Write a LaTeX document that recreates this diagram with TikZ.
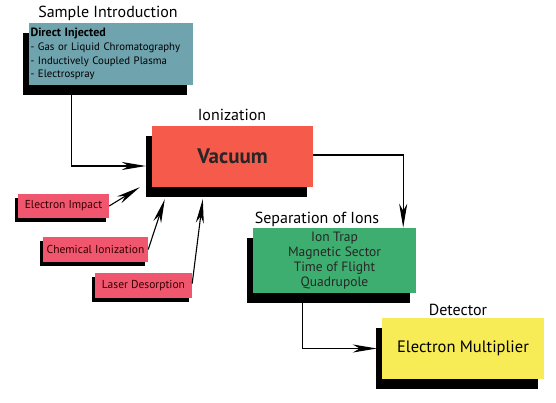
\documentclass[tikz,border=0pt]{standalone}
\usepackage{fontspec}
\setmainfont{PT Sans}
\usetikzlibrary{shadows,arrows.meta}
\definecolor{samplecol}{HTML}{6FA3AE}
\definecolor{vacuumcol}{HTML}{F55A4B}
\definecolor{methodcol}{HTML}{F0566E}
\definecolor{sepcol}{HTML}{3DAE70}
\definecolor{detcol}{HTML}{F7EC56}
\begin{document}
\begin{tikzpicture}[x=1pt,y=-1pt,
    stage/.style={rectangle, inner sep=4pt, general shadow={fill=black, shadow xshift=-6pt, shadow yshift=-10pt}},
    method/.style={rectangle, inner sep=2pt, fill=methodcol, text=black!80!red, font=\fontsize{11.5}{13}\selectfont,
        general shadow={fill=black, shadow xshift=-3.5pt, shadow yshift=-4pt}},
    title/.style={font=\fontsize{16}{18}\selectfont},
    arr/.style={line width=1.1pt, -{Stealth[length=24pt,width=8pt,inset=7pt]}}]
  \useasboundingbox (0,0) rectangle (556,403);

  % Sample introduction
  \node[title] (sampletitle) at (108,13) {Sample Introduction};
  \node[stage, fill=samplecol, minimum width=164pt, minimum height=62pt, text width=160pt, inner sep=2pt, align=left,
        font=\fontsize{10.8}{13.7}\selectfont] (sample) at (110.5,54)
    {\textbf{\fontsize{12}{13.7}\selectfont Direct Injected}\\
     - Gas or Liquid Chromatography\\
     - Inductively Coupled Plasma\\
     - Electrospray};

  % Ionization
  \node[title] (iontitle) at (232,115) {Ionization};
  \node[stage, fill=vacuumcol, minimum width=161pt, minimum height=61pt,
        font=\fontsize{21}{24}\selectfont\bfseries, text=black!85] (vac) at (232.5,156.5) {Vacuum};

  % Ionization methods
  \node[method, minimum width=91pt, minimum height=24pt] (ei) at (63.5,206) {Electron Impact};
  \node[method, minimum width=105pt, minimum height=25pt] (ci) at (95.5,249.5) {Chemical Ionization};
  \node[method, minimum width=97pt, minimum height=25pt] (ld) at (143.5,285.5) {Laser Desorption};

  % Separation of ions
  \node[title] (septitle) at (317,219) {Separation of Ions};
  \node[stage, fill=sepcol, minimum width=163pt, minimum height=65pt, align=center,
        font=\fontsize{13.5}{15}\selectfont, text=black!85] (sep) at (334.5,260.5)
    {Ion Trap\\ Magnetic Sector\\ Time of Flight\\ Quadrupole};

  % Detector
  \node[title] (dettitle) at (458,310) {Detector};
  \node[stage, fill=detcol, minimum width=162pt, minimum height=61pt,
        font=\fontsize{16.5}{19}\selectfont] (det) at (463,348.5) {Electron Multiplier};

  % Connectors
  \draw[arr] ([xshift=43pt]sample.south west) |- ([xshift=-6pt,yshift=-9.5pt]vac.west);
  \draw[arr] (ei.east) -- ([xshift=-12pt]vac.south west);
  \draw[arr] (ci.east) -- ([xshift=13pt,yshift=-12pt]vac.south west);
  \draw[arr] ([yshift=2pt]ld.east) -- ([xshift=51pt,yshift=-12pt]vac.south west);
  \draw[arr] ([yshift=1.5pt]vac.east) -| ([xshift=-13pt]sep.north east);
  \draw[arr] ([xshift=50pt]sep.south west) |- ([xshift=-5pt]det.west);
\end{tikzpicture}
\end{document}
